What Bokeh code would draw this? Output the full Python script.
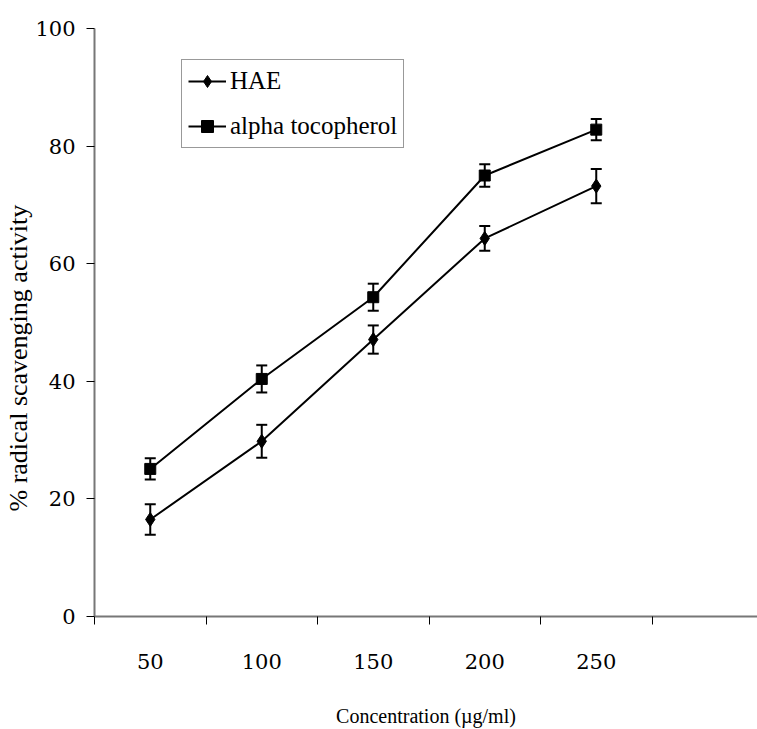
import numpy as np
from bokeh.plotting import figure
from bokeh.models import (Range1d, FixedTicker, Whisker, TeeHead, ColumnDataSource, Title, Legend,
                          LinearAxis)
from bokeh.embed import file_html
from bokeh.resources import INLINE

categories = ["50", "100", "150", "200", "250"]
hae = [16.5, 29.8, 47.1, 64.3, 73.2]
hae_err = [2.6, 2.8, 2.4, 2.1, 2.9]
alpha = [25.1, 40.4, 54.3, 75.0, 82.8]
alpha_err = [1.8, 2.3, 2.3, 1.9, 1.8]
y_ticks = [0, 20, 40, 60, 80, 100]

FONT = "Liberation Serif"
DIGIT_FONT = "DejaVu Serif"
xs = list(range(len(categories)))

p = figure(width=757, height=729, output_backend="svg", toolbar_location=None,
           x_range=Range1d(-0.5, -0.5 + 663 / 111.5), y_range=Range1d(0, 100),
           x_axis_location=None, y_axis_location=None,
           min_border_left=94, min_border_right=0, min_border_top=28, min_border_bottom=112)
p.grid.visible = False
p.outline_line_color = None
p.background_fill_color = "white"
p.border_fill_color = "white"

xaxis = LinearAxis(
    ticker=FixedTicker(ticks=xs, minor_ticks=[i - 0.5 for i in range(len(categories) + 2)]),
    major_label_overrides={i: c for i, c in enumerate(categories)},
    major_tick_out=0, major_tick_in=0,
    minor_tick_out=8, minor_tick_in=0, minor_tick_line_color="black", minor_tick_line_width=1,
    major_label_standoff=29,
    major_label_text_font=DIGIT_FONT, major_label_text_font_size="21px",
    major_label_text_font_style="normal", major_label_text_color="black",
    axis_label="Concentration (\u00b5g/ml)",
    axis_label_text_font=FONT, axis_label_text_font_size="20px",
    axis_label_text_font_style="normal", axis_label_standoff=33, axis_label_text_color="black",
    axis_line_color="#777777", axis_line_width=2)
p.add_layout(xaxis, "below")

yaxis = LinearAxis(
    ticker=FixedTicker(ticks=y_ticks, minor_ticks=[]),
    major_tick_out=8, major_tick_in=0, major_tick_line_color="black",
    major_label_standoff=11,
    major_label_text_font=DIGIT_FONT, major_label_text_font_size="21px",
    major_label_text_font_style="normal", major_label_text_color="black",
    axis_line_color="#777777", axis_line_width=2)
p.add_layout(yaxis, "left")

# y axis title
p.add_layout(Title(text="% radical scavenging activity", align="left", offset=105,
                   text_font=FONT, text_font_size="26px", text_font_style="normal",
                   text_color="black", standoff=0), "left")

src_h = ColumnDataSource(dict(x=xs, y=hae, lo=[v - e for v, e in zip(hae, hae_err)],
                              hi=[v + e for v, e in zip(hae, hae_err)]))
src_a = ColumnDataSource(dict(x=xs, y=alpha, lo=[v - e for v, e in zip(alpha, alpha_err)],
                              hi=[v + e for v, e in zip(alpha, alpha_err)]))

for src in (src_h, src_a):
    w = Whisker(source=src, base="x", lower="lo", upper="hi", line_color="black", line_width=2,
                upper_head=TeeHead(size=11, line_color="black", line_width=2),
                lower_head=TeeHead(size=11, line_color="black", line_width=2))
    p.add_layout(w)

l1 = p.line("x", "y", source=src_h, line_color="black", line_width=2)
m1 = p.scatter("x", "y", source=src_h, marker="diamond", size=14, color="black")
l2 = p.line("x", "y", source=src_a, line_color="black", line_width=2)
m2 = p.scatter("x", "y", source=src_a, marker="square", size=11, color="black")

legend = Legend(items=[("HAE", [l1, m1]), ("alpha tocopherol", [l2, m2])],
                location=(87, 468), orientation="vertical",
                label_text_font=FONT, label_text_font_size="25px", label_text_color="black",
                glyph_width=38, glyph_height=30, label_height=30, label_standoff=4,
                spacing=15, padding=6, margin=0,
                border_line_color="#333333", border_line_width=1,
                background_fill_color="white", background_fill_alpha=1)
p.add_layout(legend, "center")

open("out.html", "w").write(file_html(p, INLINE))
